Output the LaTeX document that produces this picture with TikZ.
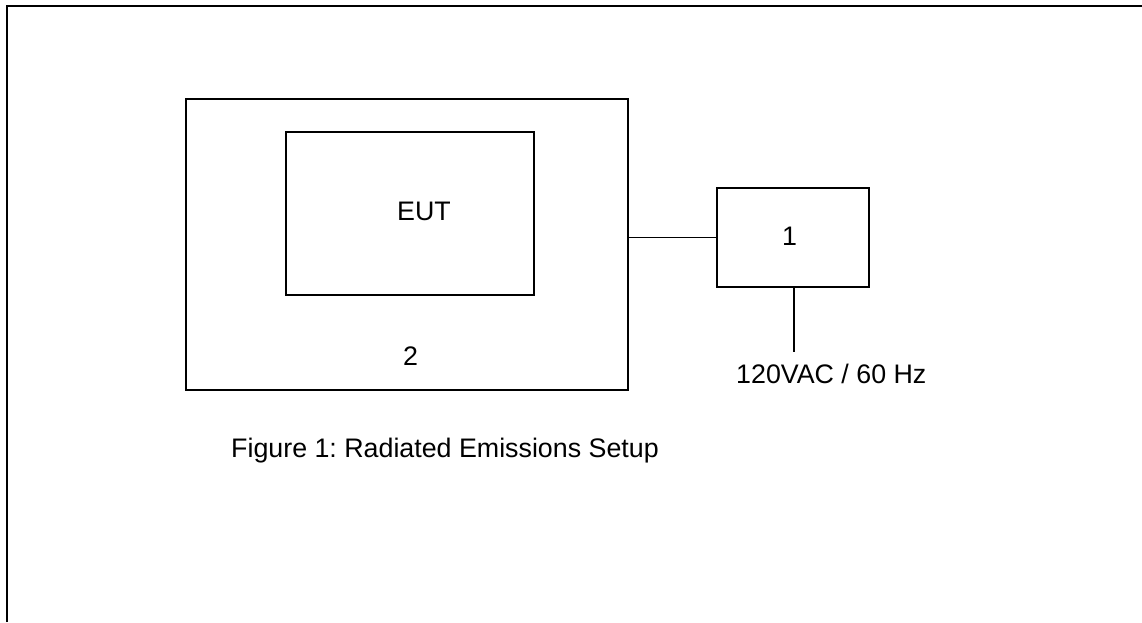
\documentclass[tikz,border=0pt]{standalone}
\usepackage{fontspec}
\setmainfont{Liberation Sans}
\frenchspacing
\begin{document}
\begin{tikzpicture}[x=1pt,y=-1pt,
  box/.style={draw,line width=1.5pt,inner sep=0pt,rectangle},
  wire/.style={line width=1.5pt},
  frameline/.style={line width=2pt},
  lbl/.style={anchor=base west,inner sep=0pt,font=\fontsize{26.8}{30}\selectfont}]
\useasboundingbox (0,0) rectangle (1142,622);
% frame
\coordinate (fr0) at (7,622);
\coordinate (fr1) at (7,6);
\coordinate (fr2) at (1142,6);
\draw[frameline] (fr0) -- (fr1) -- (fr2);
% boxes
\node[box,minimum width=442pt,minimum height=291pt] (two) at (407,244.5) {};
\node[box,minimum width=248pt,minimum height=163pt] (eut) at (410,213.5) {};
\node[box,minimum width=152pt,minimum height=99pt] (one) at (793,237.5) {};
% labels
\node[lbl] (eutl) at (397,220) {EUT};
\node[lbl] (twol) at (403,365) {2};
\node[lbl] (onel) at (782,245) {1};
\node[lbl] (acl) at (736,383) {120VAC / 60 Hz};
\node[lbl] (cap) at (231,457) {Figure 1: Radiated Emissions Setup};
% connectors
\draw[wire] (one.west) -- (one.west -| two.east);
\coordinate (acend) at (794,352);
\draw[wire] (one.south -| acend) -- (acend);
\end{tikzpicture}
\end{document}
